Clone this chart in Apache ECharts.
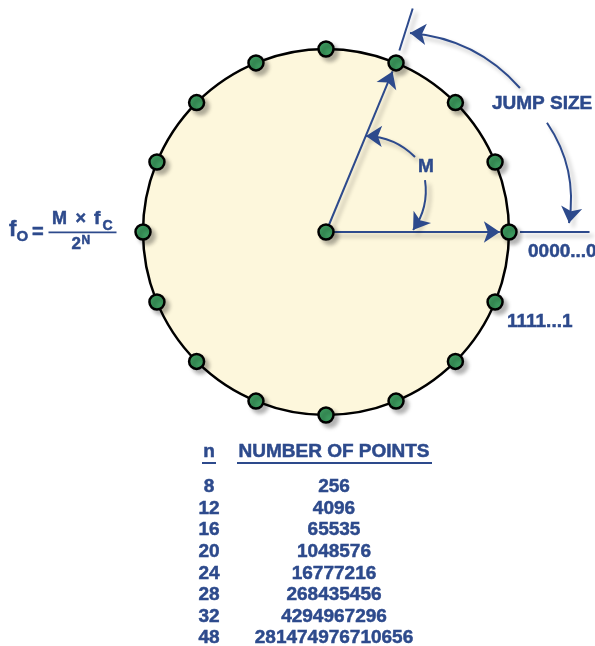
<!DOCTYPE html>
<html>
<head>
<meta charset="utf-8">
<script src="https://cdn.jsdelivr.net/npm/echarts@6/dist/echarts.min.js"></script>
<style>
html, body { margin: 0; padding: 0; background: #fff; }
#chart { width: 595px; height: 646px; }
</style>
</head>
<body>
<div id="chart"></div>
<script>
// phase points around the wheel (degrees, counter-clockwise from 0000...0)
var pointAngles = [0, 22.5, 45, 67.5, 90, 112.5, 135, 157.5, 180, 202.5, 225, 247.5, 270, 292.5, 315, 337.5];
var jumpAngle = 67.5;
// table
var nValues = ['8', '12', '16', '20', '24', '28', '32', '48'];
var pointCounts = ['256', '4096', '65535', '1048576', '16777216', '268435456', '4294967296', '281474976710656'];
var tableHeads = ['n', 'NUMBER OF POINTS'];
// annotation arrows: [r1, angle1, r2, angle2, curveness]
var straightArrows = [[0, 0, 0.95, jumpAngle, 0], [0, 0, 0.95, 0, 0]];
var tickLines = [[1.07, 68, 1.31, 68.8, 0], [1.06, 0, 1.44, 0, 0]];
var curvedArrows = [
    [0.636, 40.1, 0.568, 67.4, -0.2],
    [0.611, 27.7, 0.476, 1.3, 0.2],
    [1.32, 36.6, 1.18, 67.1, -0.2],
    [1.347, 26.3, 1.329, 2.1, 0.2]
];

var U = 183, CX = 326, CY = 232, W = 595, H = 646;
var navy = '#2d4a8c';
var green = '#3c9a5e';
var font = '"Liberation Sans", Arial, sans-serif';

function pt(r, a) {
    var t = a * Math.PI / 180;
    return [r * Math.cos(t), r * Math.sin(t)];
}
function toLines(list) {
    return list.map(function (d) {
        return {
            coords: [pt(d[0], d[1]), pt(d[2], d[3])],
            lineStyle: { curveness: d[4] }
        };
    });
}
var shadow = { shadowColor: 'rgba(0,0,0,0.28)', shadowBlur: 4, shadowOffsetX: 4, shadowOffsetY: 4 };

function txt(s, x, y, size, align) {
    return {
        type: 'text', x: x, y: y, z: 20,
        style: {
            text: s, font: 'bold ' + size + 'px ' + font, fill: navy,
            stroke: navy, lineWidth: 0.5,
            align: align || 'left', verticalAlign: 'middle'
        }
    };
}
var labelStyle = {
    show: true, position: 'inside', color: navy, fontSize: 19, fontWeight: 'bold', fontFamily: font,
    textBorderColor: navy, textBorderWidth: 0.5, opacity: 1
};

var chart = echarts.init(document.getElementById('chart'));
chart.setOption({
    animation: false,
    grid: [
        { left: 0, top: 0, width: W, height: H },
        { left: 146.5, top: 487, width: 250, height: 151 }
    ],
    xAxis: [
        { gridIndex: 0, type: 'value', min: -CX / U, max: (W - CX) / U, show: false },
        {
            gridIndex: 1, type: 'category', data: tableHeads, position: 'top',
            axisLine: { show: false }, axisTick: { show: false }, splitLine: { show: false },
            axisLabel: {
                interval: 0, hideOverlap: false, margin: 35, verticalAlign: 'middle',
                color: navy, fontSize: 19, fontWeight: 'bold', fontFamily: font,
                textBorderColor: navy, textBorderWidth: 0.5
            }
        }
    ],
    yAxis: [
        { gridIndex: 0, type: 'value', min: -(H - CY) / U, max: CY / U, show: false },
        { gridIndex: 1, type: 'category', data: nValues, inverse: true, boundaryGap: false, show: false }
    ],
    series: [
        {
            type: 'scatter', silent: true, xAxisIndex: 0, yAxisIndex: 0, z: 1,
            symbolSize: 2 * U, data: [[0, 0]],
            itemStyle: { color: '#fdf7dc', borderColor: '#000', borderWidth: 2.5, opacity: 1 }
        },
        {
            type: 'lines', coordinateSystem: 'cartesian2d', silent: true, xAxisIndex: 0, yAxisIndex: 0, z: 5,
            symbol: ['none', 'none'],
            lineStyle: Object.assign({ color: navy, width: 2, opacity: 1 }, shadow),
            data: toLines(tickLines)
        },
        {
            type: 'lines', coordinateSystem: 'cartesian2d', silent: true, xAxisIndex: 0, yAxisIndex: 0, z: 5,
            symbol: ['none', 'arrow'], symbolSize: [12, 16],
            lineStyle: Object.assign({ color: navy, width: 2, opacity: 1 }, shadow),
            data: toLines(straightArrows.concat(curvedArrows))
        },
        {
            type: 'scatter', silent: true, xAxisIndex: 0, yAxisIndex: 0, z: 8,
            symbolSize: 15,
            itemStyle: Object.assign({ color: green, borderColor: '#000', borderWidth: 2.5, opacity: 1 }, shadow),
            data: [[0, 0]].concat(pointAngles.map(function (a) { return pt(1, a); }))
        },
        {
            type: 'scatter', silent: true, xAxisIndex: 1, yAxisIndex: 1, clip: false,
            symbolSize: 1, itemStyle: { color: 'rgba(0,0,0,0)' },
            label: Object.assign({ formatter: function (p) { return nValues[p.dataIndex]; } }, labelStyle),
            data: nValues.map(function (n, i) { return [0, i]; })
        },
        {
            type: 'scatter', silent: true, xAxisIndex: 1, yAxisIndex: 1, clip: false,
            symbolSize: 1, itemStyle: { color: 'rgba(0,0,0,0)' },
            label: Object.assign({ formatter: function (p) { return pointCounts[p.dataIndex]; } }, labelStyle),
            data: pointCounts.map(function (v, i) { return [1, i]; })
        }
    ],
    graphic: [
        // table header underlines
        { type: 'line', shape: { x1: 202, y1: 463, x2: 216, y2: 463 }, style: { stroke: navy, lineWidth: 2 } },
        { type: 'line', shape: { x1: 237, y1: 463, x2: 432, y2: 463 }, style: { stroke: navy, lineWidth: 2 } },
        // labels on the wheel
        txt('M', 426, 166.5, 19, 'center'),
        txt('JUMP SIZE', 492, 104, 19),
        txt('0000...0', 528, 251.5, 19),
        txt('1111...1', 507, 321.5, 19),
        // formula f_O = M x f_C / 2^N
        txt('f', 9, 230, 22),
        txt('O', 16.5, 237, 15),
        txt('=', 32, 232, 20),
        txt('M', 52, 219.5, 18),
        txt('\u00d7', 75.5, 219.5, 18),
        txt('f', 94, 218.5, 19),
        txt('C', 102.5, 226.5, 14),
        { type: 'line', shape: { x1: 48.5, y1: 232.3, x2: 116.5, y2: 232.3 }, style: { stroke: navy, lineWidth: 1.8 } },
        txt('2', 71.5, 244.5, 17),
        txt('N', 81.5, 241, 12)
    ]
});
</script>
</body>
</html>
